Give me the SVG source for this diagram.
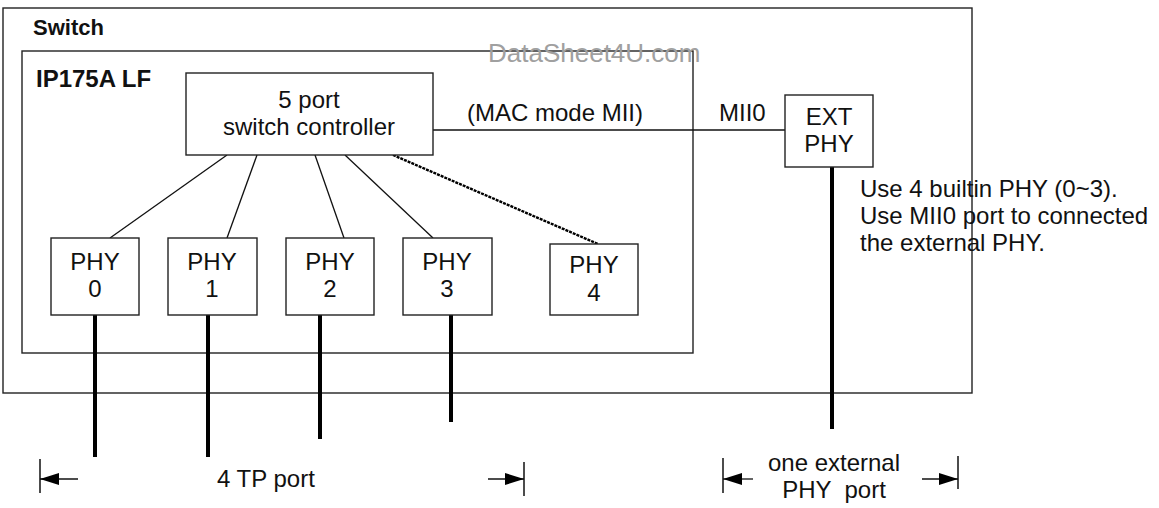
<svg xmlns="http://www.w3.org/2000/svg" width="1159" height="508" viewBox="0 0 1159 508">
<style>
  text { font-family: "Liberation Sans", Arial, sans-serif; font-size: 24px; fill: #111; }
  .c { text-anchor: middle; }
  .b { font-weight: bold; }
  .box { fill: none; stroke: #222; stroke-width: 1.4; }
  .nbox { fill: #fff; stroke: #222; stroke-width: 1.4; }
  .thin { stroke: #111; stroke-width: 1.3; fill: none; }
  .dot { stroke: #000; stroke-width: 2.4; stroke-dasharray: 3 1; fill: none; }
  .thick { stroke: #000; stroke-width: 4; fill: none; }
  .bar { stroke: #111; stroke-width: 1.5; fill: none; }
  .wm { fill: #a0a0a0; font-size: 26px; }
</style>
<defs>
  <marker id="ah" viewBox="0 0 19 12" refX="19" refY="6" markerWidth="19" markerHeight="12" markerUnits="userSpaceOnUse" orient="auto">
    <path d="M0,0 L19,6 L0,12 z" fill="#000"/>
  </marker>
</defs>

<g id="switch">
  <rect class="box" x="3" y="8" width="969" height="385"/>
  <text class="b" x="33" y="35" style="font-size:22px">Switch</text>
</g>

<g id="ip175a">
  <rect class="box" x="22" y="51" width="671" height="302"/>
  <text class="b" x="36" y="87">IP175A LF</text>
</g>

<g id="watermark">
  <text class="wm" x="488" y="62">DataSheet4U.com</text>
</g>

<g id="connectors">
  <line class="thin" x1="433" y1="130" x2="785" y2="130"/>
  <line class="thin" x1="227" y1="155" x2="110" y2="238"/>
  <line class="thin" x1="257" y1="155" x2="227" y2="238"/>
  <line class="thin" x1="315" y1="155" x2="344" y2="238"/>
  <line class="thin" x1="345" y1="155" x2="433" y2="238"/>
  <line class="dot" x1="393" y1="155" x2="598" y2="244"/>
  <line class="thick" x1="95" y1="315" x2="95" y2="457"/>
  <line class="thick" x1="208" y1="315" x2="208" y2="457"/>
  <line class="thick" x1="320" y1="315" x2="320" y2="439"/>
  <line class="thick" x1="451" y1="315" x2="451" y2="422"/>
  <line class="thick" x1="832" y1="167" x2="832" y2="429"/>
  <line class="bar" x1="40" y1="459" x2="40" y2="493"/>
  <line class="thin" x1="78" y1="479" x2="40" y2="479" marker-end="url(#ah)"/>
  <line class="bar" x1="524" y1="462" x2="524" y2="496"/>
  <line class="thin" x1="488" y1="479" x2="524" y2="479" marker-end="url(#ah)"/>
  <line class="bar" x1="723" y1="458" x2="723" y2="493"/>
  <line class="thin" x1="753" y1="479" x2="723" y2="479" marker-end="url(#ah)"/>
  <line class="bar" x1="958" y1="456" x2="958" y2="489"/>
  <line class="thin" x1="922" y1="479" x2="958" y2="479" marker-end="url(#ah)"/>
</g>

<g id="controller">
  <rect class="nbox" x="186" y="73" width="247" height="82"/>
  <text class="c" x="309" y="108">5 port</text>
  <text class="c" x="309" y="135">switch controller</text>
</g>

<g id="mii-labels">
  <text x="467" y="121">(MAC mode MII)</text>
  <text x="719" y="121">MII0</text>
</g>

<g id="ext-phy">
  <rect class="nbox" x="785" y="95" width="88" height="72"/>
  <text class="c" x="829" y="125">EXT</text>
  <text class="c" x="829" y="152">PHY</text>
</g>

<g id="phy0">
  <rect class="nbox" x="51" y="238" width="88" height="77"/>
  <text class="c" x="95" y="270">PHY</text>
  <text class="c" x="95" y="297">0</text>
</g>
<g id="phy1">
  <rect class="nbox" x="168" y="238" width="89" height="77"/>
  <text class="c" x="212" y="270">PHY</text>
  <text class="c" x="212" y="297">1</text>
</g>
<g id="phy2">
  <rect class="nbox" x="286" y="238" width="88" height="77"/>
  <text class="c" x="330" y="270">PHY</text>
  <text class="c" x="330" y="297">2</text>
</g>
<g id="phy3">
  <rect class="nbox" x="403" y="238" width="89" height="77"/>
  <text class="c" x="447" y="270">PHY</text>
  <text class="c" x="447" y="297">3</text>
</g>
<g id="phy4">
  <rect class="nbox" x="550" y="244" width="88" height="71"/>
  <text class="c" x="594" y="273">PHY</text>
  <text class="c" x="594" y="301">4</text>
</g>

<g id="note">
  <text x="860" y="197">Use 4 builtin PHY (0~3).</text>
  <text x="860" y="224">Use MII0 port to connected</text>
  <text x="860" y="251">the external PHY.</text>
</g>

<g id="tp-label">
  <text x="217" y="487">4 TP port</text>
</g>

<g id="ext-label">
  <text class="c" x="834" y="471">one external</text>
  <text class="c" x="834" y="498" xml:space="preserve" style="white-space:pre">PHY  port</text>
</g>
</svg>
